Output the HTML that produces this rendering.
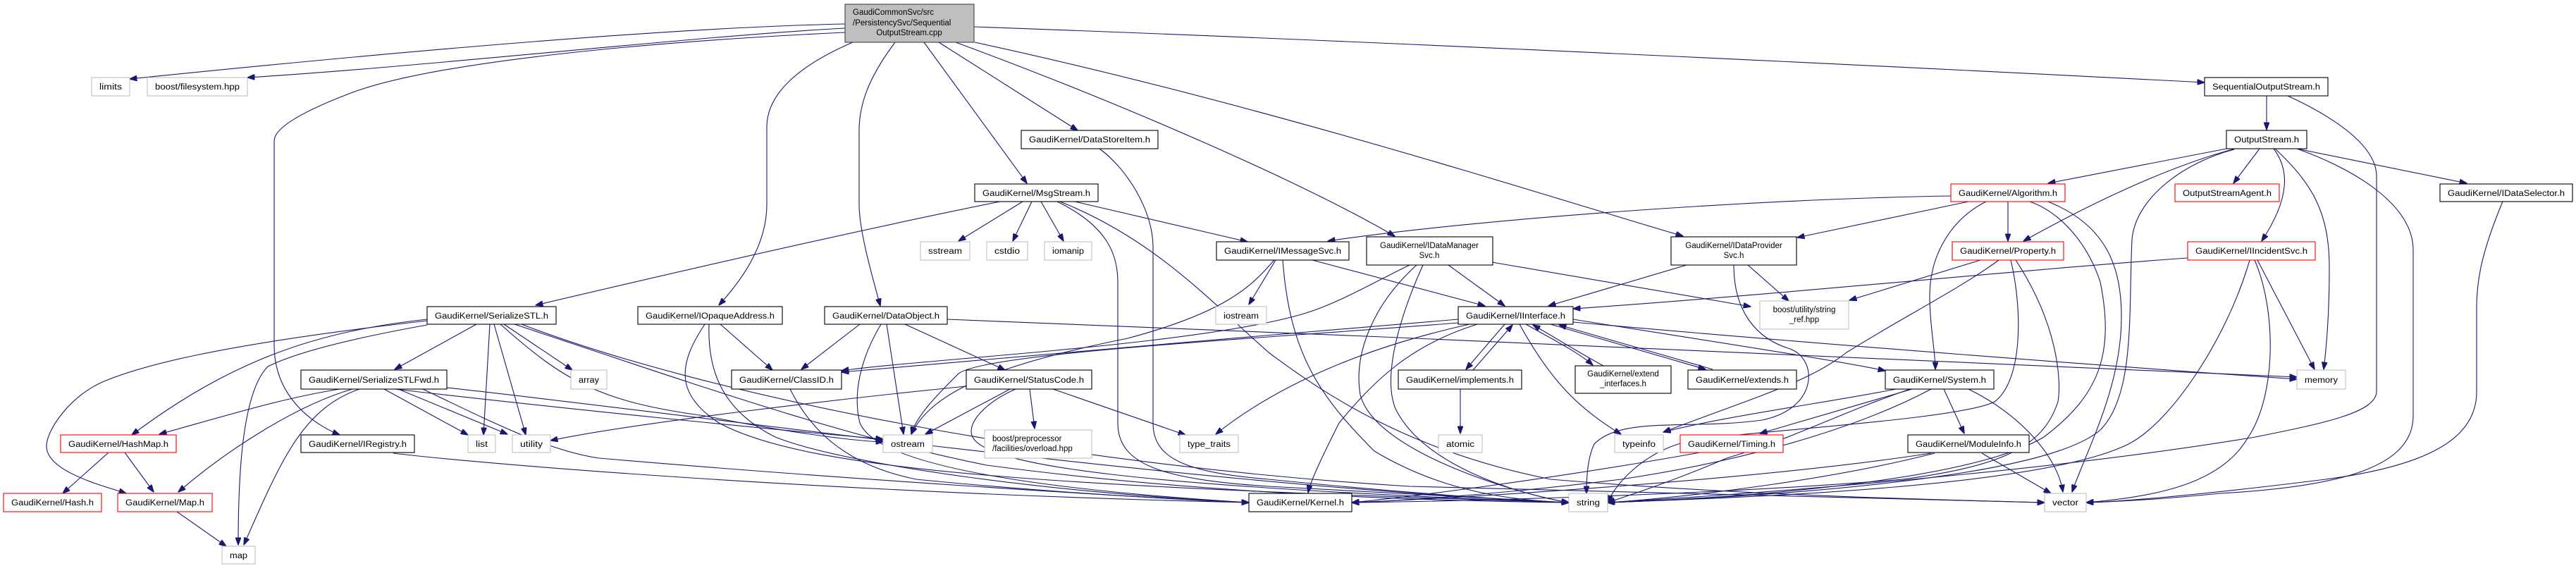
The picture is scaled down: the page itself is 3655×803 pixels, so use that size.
<!DOCTYPE html>
<html><head><meta charset="utf-8"><style>
html,body{margin:0;padding:0;background:#fff}
svg{display:block}
text{font-family:"Liberation Sans",Helvetica,Arial,sans-serif;font-size:11.5px;fill:#000}
.e path{fill:none;stroke:#191970;stroke-width:1.1}
.n{fill:#fff;stroke:#000;stroke-width:1.1}
.g{fill:#fff;stroke:#bfbfbf;stroke-width:1.1}
.r{fill:#fff;stroke:#ff0000;stroke-width:1.1}
</style></head><body>
<svg width="3655" height="803" viewBox="0 0 3655 803" xmlns="http://www.w3.org/2000/svg">
<defs><marker id="a" markerWidth="11" markerHeight="8" refX="10.5" refY="4" orient="auto" markerUnits="userSpaceOnUse"><path d="M0,0 L11,4 L0,8 z" fill="#191970" stroke="#191970"/></marker></defs>
<g class="e" marker-end="url(#a)">
<path d="M1199,34 C900,40 400,90 184,112"/>
<path d="M1199,40 C1000,50 600,95 351,110"/>
<path d="M1199,46 C900,60 600,90 490,135 C400,170 389,190 389,200 L389,490 C389,560 440,600 482,617"/>
<path d="M1210,60 C1140,90 1088,130 1088,180 L1088,290 C1088,350 1050,400 1020,433"/>
<path d="M1270,60 C1240,100 1219,140 1219,185 L1219,290 C1219,330 1240,400 1249,434"/>
<path d="M1311,60 L1457,260"/>
<path d="M1332,60 L1529,185"/>
<path d="M1356,60 C1600,150 1850,260 1979,335"/>
<path d="M1383,60 C1800,150 2200,280 2388,335"/>
<path d="M1382,38 C2000,60 2800,100 3128,117"/>
<path d="M1419,286 C1200,330 900,400 760,433"/>
<path d="M1451,286 L1360,342"/>
<path d="M1464,286 L1437,342"/>
<path d="M1477,286 L1509,342"/>
<path d="M1525,286 L1770,343"/>
<path d="M1500,286 C1570,320 1586,360 1586,400 L1586,600 C1586,660 1650,680 1800,690 C2000,700 2150,710 2226,713"/>
<path d="M1504,286 C1640,340 1720,430 1800,500 C1880,560 2000,640 2200,680 C2500,705 2800,710 2901,713"/>
<path d="M676,460 L560,524"/>
<path d="M606,453 C450,470 330,510 187,617"/>
<path d="M606,455 C300,490 200,520 150,540 C100,560 66,610 66,633 C66,670 150,690 179,700"/>
<path d="M606,461 C500,480 420,500 380,520 C340,560 338,700 338,773"/>
<path d="M695,460 L686,617"/>
<path d="M701,460 L746,617"/>
<path d="M715,460 L812,525"/>
<path d="M710,460 C800,540 850,570 1000,590 C1100,610 1200,625 1253,627"/>
<path d="M730,460 C1000,550 1200,620 1400,660 C1700,700 2000,710 2226,713"/>
<path d="M740,460 C1000,560 1500,660 2000,690 C2500,705 2800,712 2901,713"/>
<path d="M482,552 C400,565 320,590 226,616"/>
<path d="M500,552 C420,575 320,640 253,698"/>
<path d="M510,552 C430,580 400,650 346,773"/>
<path d="M545,552 L664,617"/>
<path d="M565,552 L720,616"/>
<path d="M560,552 C800,580 1100,610 1253,623"/>
<path d="M600,552 C700,600 780,640 850,650 C1200,680 1600,705 1772,713"/>
<path d="M634,550 C1000,590 1700,690 2226,713"/>
<path d="M154,642 L89,700"/>
<path d="M177,642 L218,698"/>
<path d="M251,726 L321,775"/>
<path d="M558,643 C700,660 1200,700 1772,713"/>
<path d="M1022,460 L1096,525"/>
<path d="M1000,460 C960,520 960,560 1020,600 C1150,670 1500,690 2226,713"/>
<path d="M1006,460 C1004,520 1020,580 1100,620 C1200,660 1500,700 1772,713"/>
<path d="M1121,552 C1150,610 1200,660 1300,680 C1500,700 1700,710 1772,713"/>
<path d="M1220,460 L1137,524"/>
<path d="M1284,460 L1426,525"/>
<path d="M1258,460 L1282,616"/>
<path d="M1250,460 C1220,510 1210,560 1220,600 C1240,650 1400,690 1772,713"/>
<path d="M1344,453 C2000,480 2800,510 3259,535"/>
<path d="M1433,552 L1313,616"/>
<path d="M1461,552 L1468,608"/>
<path d="M1494,552 L1682,617"/>
<path d="M1371,548 C1200,565 900,600 781,625"/>
<path d="M1441,552 C1400,570 1370,600 1380,620 C1400,660 1600,690 2226,713"/>
<path d="M1810,369 L1772,432"/>
<path d="M1862,369 L2107,434"/>
<path d="M1820,369 C1830,500 1870,560 1950,640 C2050,700 2150,710 2226,713"/>
<path d="M1808,369 C1780,400 1750,440 1600,480 C1400,520 1320,560 1293,616"/>
<path d="M2055,376 L2135,434"/>
<path d="M2010,376 C1950,430 1920,500 1930,560 C1950,640 2150,700 2226,713"/>
<path d="M2019,376 C1990,440 1960,530 1980,580 C2020,660 2150,700 2226,713"/>
<path d="M2117,372 L2484,435"/>
<path d="M2000,376 C1950,400 1900,430 1850,445 C1700,490 1300,510 1194,526"/>
<path d="M2393,376 L2197,434"/>
<path d="M2480,376 L2538,427"/>
<path d="M2460,376 C2460,440 2490,480 2540,495 C2580,510 2580,580 2500,596 C2400,610 2300,590 2262,630 C2252,650 2251,680 2251,700"/>
<path d="M2768,278 C2500,282 2100,310 1884,342"/>
<path d="M2793,286 L2550,337"/>
<path d="M2849,286 L2849,342"/>
<path d="M2818,286 C2770,310 2738,360 2738,420 C2738,460 2746,500 2746,524"/>
<path d="M2880,286 C2920,300 2960,340 2980,400 C3000,500 2980,560 2900,620 C2800,680 2500,705 2281,713"/>
<path d="M2906,286 C2990,320 3010,380 3010,450 C3010,550 2960,640 2940,698"/>
<path d="M2810,369 L2624,426"/>
<path d="M2836,369 C2780,410 2700,450 2620,500 C2570,540 2500,560 2360,613"/>
<path d="M2853,369 C2870,440 2870,540 2830,570 C2780,595 2500,610 2400,625 C2330,640 2290,690 2281,713"/>
<path d="M2860,369 C2920,460 2925,540 2920,570 C2900,630 2850,660 2700,680 C2400,705 2000,712 1918,713"/>
<path d="M3206,211 L3169,260"/>
<path d="M3259,211 L3500,260"/>
<path d="M3226,211 C3248,240 3250,280 3209,342"/>
<path d="M3228,211 C3280,260 3305,300 3305,380 C3305,450 3300,500 3297,524"/>
<path d="M3159,211 L2906,260"/>
<path d="M3171,211 C3100,230 3000,270 2871,342"/>
<path d="M3170,212 C3100,230 3030,280 3025,340 C3020,440 3030,560 2980,610 C2900,680 2500,705 2281,713"/>
<path d="M3259,211 C3340,240 3424,290 3424,355 L3424,590 C3424,660 3330,690 3150,700 C3050,710 2990,712 2960,713"/>
<path d="M3216,136 L3216,184"/>
<path d="M3246,136 C3320,170 3372,210 3372,250 L3372,555 C3372,585 3300,600 3200,620 C2900,670 2500,700 2281,713"/>
<path d="M3104,366 C2900,380 2500,420 2232,438"/>
<path d="M3203,369 L3284,524"/>
<path d="M3192,369 C3160,480 3080,600 3020,630 C2900,690 2500,705 2281,713"/>
<path d="M3199,369 C3230,440 3230,560 3190,620 C3150,690 3050,705 2960,713"/>
<path d="M3551,286 C3520,360 3514,400 3514,437 L3514,556 C3514,620 3450,660 3300,680 C3100,705 3000,712 2960,713"/>
<path d="M2135,460 L2080,524"/>
<path d="M2090,525 L2146,461"/>
<path d="M2165,460 C2200,480 2240,500 2260,518"/>
<path d="M2275,519 C2240,500 2200,475 2175,461"/>
<path d="M2200,460 L2420,524"/>
<path d="M2430,524 L2212,461"/>
<path d="M2156,460 C2200,540 2240,580 2300,616"/>
<path d="M2069,453 C1800,475 1400,510 1194,528"/>
<path d="M2096,460 C2000,490 1950,540 1900,600 C1880,640 1860,680 1856,699"/>
<path d="M2069,458 C1800,480 1400,500 1360,530 C1330,560 1300,590 1293,616"/>
<path d="M2085,460 C1950,490 1820,540 1725,616"/>
<path d="M2232,457 C2600,490 3000,520 3259,538"/>
<path d="M2232,453 C2400,480 2600,510 2675,526"/>
<path d="M2072,552 L2072,615"/>
<path d="M2690,552 C2600,570 2450,590 2360,613"/>
<path d="M2713,552 L2497,615"/>
<path d="M2758,552 L2787,615"/>
<path d="M2793,552 C2870,590 2920,650 2927,698"/>
<path d="M2710,552 C2600,590 2550,620 2450,650 C2380,680 2320,700 2281,713"/>
<path d="M2740,552 C2650,600 2500,650 2300,680 C2100,705 1950,712 1918,713"/>
<path d="M2412,642 C2200,680 2000,705 1918,713"/>
<path d="M2740,643 C2500,680 2100,705 1918,713"/>
<path d="M2745,643 C2600,680 2400,705 2281,713"/>
<path d="M2812,643 L2910,700"/>
<path d="M1560,211 C1600,240 1636,300 1636,350 L1636,600 C1636,650 1680,670 1800,680 C2000,700 2150,710 2226,713"/>
</g>
<g>
<rect x="1199" y="6" width="183" height="54" fill="#bfbfbf" stroke="#404040" stroke-width="1.1"/>
<text x="1210" y="21">GaudiCommonSvc/src</text>
<text x="1210" y="36">/PersistencySvc/Sequential</text>
<text x="1290" y="50" text-anchor="middle">OutputStream.cpp</text>

<rect class="g" x="130" y="110" width="54" height="26"/><text x="141" y="127" textLength="32" lengthAdjust="spacingAndGlyphs">limits</text>
<rect class="g" x="209" y="110" width="142" height="26"/><text x="220" y="127" textLength="120" lengthAdjust="spacingAndGlyphs">boost/filesystem.hpp</text>
<rect class="n" x="3128" y="110" width="175" height="26"/><text x="3139" y="127" textLength="153" lengthAdjust="spacingAndGlyphs">SequentialOutputStream.h</text>
<rect class="n" x="1449" y="185" width="194" height="26"/><text x="1460" y="202" textLength="172" lengthAdjust="spacingAndGlyphs">GaudiKernel/DataStoreItem.h</text>
<rect class="n" x="3159" y="185" width="114" height="26"/><text x="3170" y="202" textLength="92" lengthAdjust="spacingAndGlyphs">OutputStream.h</text>
<rect class="n" x="1383" y="261" width="175" height="25"/><text x="1394" y="278" textLength="153" lengthAdjust="spacingAndGlyphs">GaudiKernel/MsgStream.h</text>
<rect class="r" x="2768" y="261" width="162" height="25"/><text x="2779" y="278" textLength="140" lengthAdjust="spacingAndGlyphs">GaudiKernel/Algorithm.h</text>
<rect class="r" x="3086" y="261" width="148" height="25"/><text x="3097" y="278" textLength="126" lengthAdjust="spacingAndGlyphs">OutputStreamAgent.h</text>
<rect class="n" x="3462" y="261" width="188" height="25"/><text x="3473" y="278" textLength="166" lengthAdjust="spacingAndGlyphs">GaudiKernel/IDataSelector.h</text>
<rect class="g" x="1306" y="343" width="70" height="26"/><text x="1317" y="360" textLength="48" lengthAdjust="spacingAndGlyphs">sstream</text>
<rect class="g" x="1400" y="343" width="58" height="26"/><text x="1411" y="360" textLength="36" lengthAdjust="spacingAndGlyphs">cstdio</text>
<rect class="g" x="1482" y="343" width="67" height="26"/><text x="1493" y="360" textLength="45" lengthAdjust="spacingAndGlyphs">iomanip</text>
<rect class="n" x="1726" y="343" width="188" height="26"/><text x="1737" y="360" textLength="166" lengthAdjust="spacingAndGlyphs">GaudiKernel/IMessageSvc.h</text>
<rect class="n" x="1939" y="336" width="179" height="40"/><text x="2028" y="352" text-anchor="middle">GaudiKernel/IDataManager</text><text x="2028" y="366" text-anchor="middle">Svc.h</text>
<rect class="n" x="2371" y="336" width="178" height="40"/><text x="2460" y="352" text-anchor="middle">GaudiKernel/IDataProvider</text><text x="2460" y="366" text-anchor="middle">Svc.h</text>
<rect class="r" x="2770" y="343" width="158" height="26"/><text x="2781" y="360" textLength="136" lengthAdjust="spacingAndGlyphs">GaudiKernel/Property.h</text>
<rect class="r" x="3104" y="343" width="181" height="26"/><text x="3115" y="360" textLength="159" lengthAdjust="spacingAndGlyphs">GaudiKernel/IIncidentSvc.h</text>
<rect class="n" x="606" y="435" width="183" height="25"/><text x="617" y="452" textLength="161" lengthAdjust="spacingAndGlyphs">GaudiKernel/SerializeSTL.h</text>
<rect class="n" x="905" y="435" width="205" height="25"/><text x="916" y="452" textLength="183" lengthAdjust="spacingAndGlyphs">GaudiKernel/IOpaqueAddress.h</text>
<rect class="n" x="1170" y="435" width="174" height="25"/><text x="1181" y="452" textLength="152" lengthAdjust="spacingAndGlyphs">GaudiKernel/DataObject.h</text>
<rect class="g" x="1725" y="435" width="72" height="25"/><text x="1736" y="452" textLength="50" lengthAdjust="spacingAndGlyphs">iostream</text>
<rect class="n" x="2069" y="435" width="163" height="25"/><text x="2080" y="452" textLength="141" lengthAdjust="spacingAndGlyphs">GaudiKernel/IInterface.h</text>
<rect class="g" x="2497" y="427" width="126" height="40"/><text x="2560" y="443" text-anchor="middle">boost/utility/string</text><text x="2560" y="457" text-anchor="middle">_ref.hpp</text>
<rect class="n" x="427" y="525" width="207" height="27"/><text x="438" y="543" textLength="185" lengthAdjust="spacingAndGlyphs">GaudiKernel/SerializeSTLFwd.h</text>
<rect class="g" x="810" y="525" width="51" height="27"/><text x="821" y="543" textLength="29" lengthAdjust="spacingAndGlyphs">array</text>
<rect class="n" x="1038" y="525" width="156" height="27"/><text x="1049" y="543" textLength="134" lengthAdjust="spacingAndGlyphs">GaudiKernel/ClassID.h</text>
<rect class="n" x="1371" y="525" width="178" height="27"/><text x="1382" y="543" textLength="156" lengthAdjust="spacingAndGlyphs">GaudiKernel/StatusCode.h</text>
<rect class="n" x="1984" y="525" width="175" height="27"/><text x="1995" y="543" textLength="153" lengthAdjust="spacingAndGlyphs">GaudiKernel/implements.h</text>
<rect class="n" x="2235" y="519" width="136" height="39"/><text x="2303" y="534" text-anchor="middle">GaudiKernel/extend</text><text x="2303" y="548" text-anchor="middle">_interfaces.h</text>
<rect class="n" x="2395" y="525" width="154" height="27"/><text x="2406" y="543" textLength="132" lengthAdjust="spacingAndGlyphs">GaudiKernel/extends.h</text>
<rect class="n" x="2675" y="525" width="154" height="27"/><text x="2686" y="543" textLength="132" lengthAdjust="spacingAndGlyphs">GaudiKernel/System.h</text>
<rect class="g" x="3259" y="525" width="69" height="27"/><text x="3270" y="543" textLength="47" lengthAdjust="spacingAndGlyphs">memory</text>
<rect class="r" x="86" y="617" width="164" height="25"/><text x="97" y="634" textLength="142" lengthAdjust="spacingAndGlyphs">GaudiKernel/HashMap.h</text>
<rect class="n" x="427" y="617" width="161" height="25"/><text x="438" y="634" textLength="139" lengthAdjust="spacingAndGlyphs">GaudiKernel/IRegistry.h</text>
<rect class="g" x="664" y="617" width="39" height="25"/><text x="675" y="634" textLength="17" lengthAdjust="spacingAndGlyphs">list</text>
<rect class="g" x="727" y="617" width="54" height="25"/><text x="738" y="634" textLength="32" lengthAdjust="spacingAndGlyphs">utility</text>
<rect class="g" x="1253" y="617" width="70" height="25"/><text x="1264" y="634" textLength="48" lengthAdjust="spacingAndGlyphs">ostream</text>
<rect class="g" x="1397" y="610" width="152" height="40"/><text x="1408" y="626">boost/preprocessor</text><text x="1408" y="640">/facilities/overload.hpp</text>
<rect class="g" x="1674" y="617" width="83" height="25"/><text x="1685" y="634" textLength="61" lengthAdjust="spacingAndGlyphs">type_traits</text>
<rect class="g" x="2041" y="617" width="62" height="25"/><text x="2052" y="634" textLength="40" lengthAdjust="spacingAndGlyphs">atomic</text>
<rect class="g" x="2291" y="617" width="69" height="25"/><text x="2302" y="634" textLength="47" lengthAdjust="spacingAndGlyphs">typeinfo</text>
<rect class="r" x="2384" y="617" width="146" height="25"/><text x="2395" y="634" textLength="124" lengthAdjust="spacingAndGlyphs">GaudiKernel/Timing.h</text>
<rect class="n" x="2707" y="617" width="172" height="25"/><text x="2718" y="634" textLength="150" lengthAdjust="spacingAndGlyphs">GaudiKernel/ModuleInfo.h</text>
<rect class="r" x="5" y="700" width="139" height="26"/><text x="16" y="717" textLength="117" lengthAdjust="spacingAndGlyphs">GaudiKernel/Hash.h</text>
<rect class="r" x="167" y="700" width="134" height="26"/><text x="178" y="717" textLength="112" lengthAdjust="spacingAndGlyphs">GaudiKernel/Map.h</text>
<rect class="n" x="1772" y="700" width="146" height="26"/><text x="1783" y="717" textLength="124" lengthAdjust="spacingAndGlyphs">GaudiKernel/Kernel.h</text>
<rect class="g" x="2226" y="700" width="55" height="26"/><text x="2237" y="717" textLength="33" lengthAdjust="spacingAndGlyphs">string</text>
<rect class="g" x="2901" y="700" width="59" height="26"/><text x="2912" y="717" textLength="37" lengthAdjust="spacingAndGlyphs">vector</text>
<rect class="g" x="315" y="775" width="47" height="25"/><text x="326" y="792" textLength="25" lengthAdjust="spacingAndGlyphs">map</text>
</g>
</svg>
</body></html>
